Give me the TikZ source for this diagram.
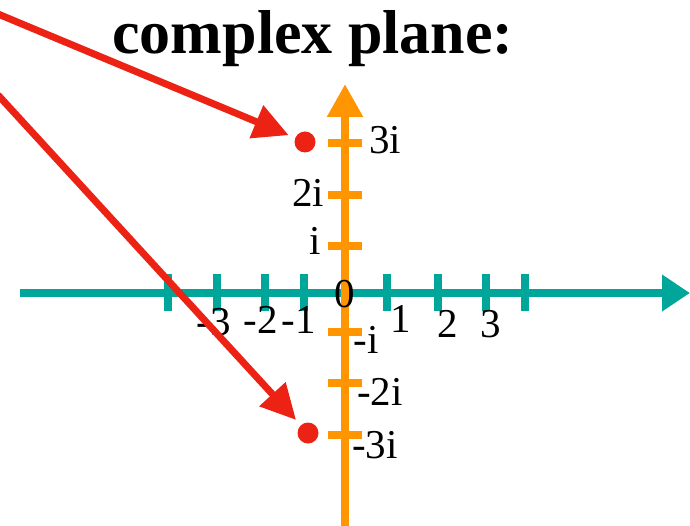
\documentclass[tikz,border=0pt]{standalone}
\usepackage{fontspec}
\setmainfont{Liberation Serif}
\usetikzlibrary{arrows.meta}
\definecolor{axteal}{RGB}{0,166,153}
\definecolor{axorange}{RGB}{255,149,0}
\definecolor{ptred}{RGB}{236,34,20}
\tikzset{
  haxis/.style={draw=axteal,line width=8.5pt,-{Triangle[length=28pt,width=35pt]}},
  htick/.style={draw=axteal,line width=8pt},
  vaxis/.style={draw=axorange,line width=8.5pt,-{Triangle[length=33pt,width=34pt]}},
  vtick/.style={draw=axorange,line width=8pt},
  lbl/.style={font=\fontsize{41}{41}\selectfont,anchor=base,inner sep=0pt},
  pt/.style={circle,fill=ptred,minimum size=21pt,inner sep=0pt},
  redarrow/.style={draw=ptred,line width=7pt,-{Triangle[length=35pt,width=34pt]},shorten >=7pt},
}
\begin{document}
\begin{tikzpicture}[x=1pt,y=-1pt]
\useasboundingbox (0,0) rectangle (690,526);
% title
\node[anchor=base,inner sep=0pt,font=\fontsize{62}{62}\selectfont\bfseries] (title) at (313,54) {complex plane:};
% horizontal axis
\coordinate (hs) at (20,293);
\coordinate (he) at (690,293);
\draw[haxis] (hs) -- (he);
\foreach \x in {168,217,265,304,387,438,486,525}
  \draw[htick] (\x,274) -- (\x,311);
% vertical axis
\coordinate (vs) at (345,526);
\coordinate (ve) at (345,84);
\draw[vaxis] (vs) -- (ve);
\foreach \y in {143,195,246,332,383,435}
  \draw[vtick] (328,\y) -- (362,\y);
% labels
\node[lbl] (lm3) at (214,335) {-3};
\node[lbl] (lm2) at (261,333) {-2};
\node[lbl] (lm1) at (299,333) {-1};
\node[lbl] (l0) at (345,308) {0};
\node[lbl] (l1) at (401,332) {1};
\node[lbl] (l2) at (448,337) {2};
\node[lbl] (l3) at (491,337) {3};
\node[lbl] (li3) at (385,154) {3i};
\node[lbl] (li2) at (308,207) {2i};
\node[lbl] (li1) at (315,255) {i};
\node[lbl] (lmi1) at (366,353) {-i};
\node[lbl] (lmi2) at (380,405) {-2i};
\node[lbl] (lmi3) at (375,458) {-3i};
% points
\node[pt] (p1) at (305,142) {};
\node[pt] (p2) at (308,433) {};
\coordinate (a1) at (-2,14);
\coordinate (a2) at (-2,95);
\draw[redarrow] (a1) -- (p1);
\draw[redarrow] (a2) -- (p2);
\end{tikzpicture}
\end{document}
